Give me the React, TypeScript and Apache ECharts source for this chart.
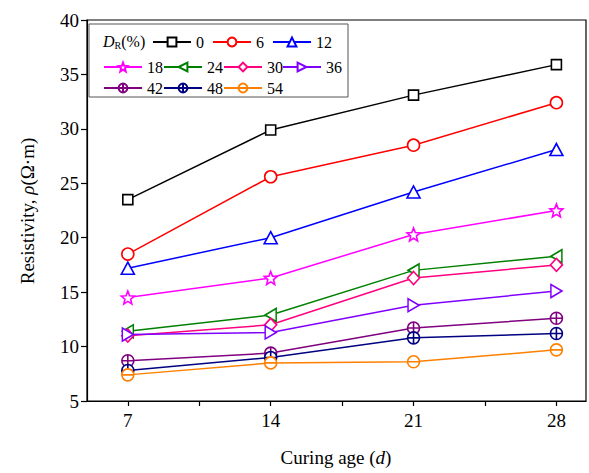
import React, { useEffect, useRef } from "react";
import * as echarts from "echarts";

const ages = [7, 14, 21, 28];
const xLabelTicks = [7, 14, 21, 28];
const xMinorTicks = [7, 10.5, 14, 17.5, 21, 24.5, 28];

const d0 = [23.5, 29.9, 33.1, 35.9];
const d6 = [18.5, 25.6, 28.5, 32.4];
const d12 = [17.2, 20.0, 24.2, 28.1];
const d18 = [14.5, 16.3, 20.3, 22.5];
const d24 = [11.4, 12.9, 17.0, 18.3];
const d30 = [11.0, 12.0, 16.3, 17.5];
const d36 = [11.1, 11.3, 13.8, 15.1];
const d42 = [8.7, 9.4, 11.7, 12.6];
const d48 = [7.8, 9.0, 10.8, 11.2];
const d54 = [7.4, 8.5, 8.6, 9.7];

const seriesNames = ["0", "6", "12", "18", "24", "30", "36", "42", "48", "54"];
const seriesValues = [d0, d6, d12, d18, d24, d30, d36, d42, d48, d54];
const seriesColors = [
  "#000000", "#FF0000", "#0000FF", "#FF00FF", "#008000",
  "#FF0080", "#8000FF", "#800080", "#000080", "#FF8000",
];

const STAR =
  "path://M50 0 L62.93 32.2 L97.55 34.55 L70.92 56.8 L79.39 90.45 L50 72 L20.61 90.45 L29.08 56.8 L2.45 34.55 L37.07 32.2 Z";
const LEFT_TRI = "path://M0 50 L100 0 L100 100 Z";
const RIGHT_TRI = "path://M0 0 L100 50 L0 100 Z";
const CIRCLE_PLUS =
  "path://M0 50 A50 50 0 1 1 100 50 A50 50 0 1 1 0 50 Z M50 0 L50 100 M0 50 L100 50";
const CIRCLE_MINUS =
  "path://M0 50 A50 50 0 1 1 100 50 A50 50 0 1 1 0 50 Z M0 50 L100 50";

const seriesSymbols = [
  "rect", "circle", "triangle", STAR, LEFT_TRI,
  "diamond", RIGHT_TRI, CIRCLE_PLUS, CIRCLE_PLUS, CIRCLE_MINUS,
];
const seriesSymbolSizes: any[] = [
  10, 12, [13, 12], 13, [11, 13], [12, 13], [11, 13], 12, 12, 12,
];

const legendPos = [
  [152, 34], [212, 34], [272, 34],
  [103, 59], [163, 59], [223, 59], [282, 59],
  [103, 80], [163, 80], [223, 80],
];

const FONT = "Liberation Serif";

export default function App() {
  const ref = useRef<HTMLDivElement>(null);
  useEffect(() => {
    if (!ref.current) return;
    const chart = echarts.init(ref.current, null, { renderer: "svg" });
    const series = seriesNames.map((name, i) => ({
      name,
      type: "line",
      data: ages.map((a, j) => [a, seriesValues[i][j]]),
      symbol: seriesSymbols[i],
      symbolSize: seriesSymbolSizes[i],
      showAllSymbol: true,
      lineStyle: { color: seriesColors[i], width: 1.5 },
      itemStyle: { color: "#ffffff", borderColor: seriesColors[i], borderWidth: 1.6 },
      z: 3,
    }));
    const legendText = {
      fontFamily: FONT,
      fontSize: 16,
      color: "#000",
      fontWeight: "normal",
      rich: { t: { fontFamily: FONT, fontSize: 16, color: "#000", fontWeight: "normal" } },
    };
    const legends = seriesNames.map((name, i) => ({
      data: [name],
      left: legendPos[i][0],
      top: legendPos[i][1],
      padding: 0,
      itemGap: 0,
      itemWidth: 38,
      itemHeight: 11,
      formatter: "{t|{name}}",
      textStyle: legendText,
    }));
    chart.setOption({
      animation: false,
      backgroundColor: "#fff",
      textStyle: { fontFamily: FONT },
      grid: {
        left: 87,
        top: 20,
        right: 3,
        bottom: 72,
        show: true,
        borderColor: "#000",
        borderWidth: 1.2,
        backgroundColor: "transparent",
      },
      legend: legends,
      xAxis: {
        type: "value",
        min: 5,
        max: 29.45,
        axisLine: { lineStyle: { color: "#000", width: 1.2 } },
        axisTick: {
          show: true,
          length: 5,
          inside: false,
          customValues: xMinorTicks,
          lineStyle: { color: "#000", width: 1.2 },
        },
        axisLabel: {
          customValues: xLabelTicks,
          fontFamily: FONT,
          fontSize: 19,
          color: "#000",
          margin: 10,
        },
        splitLine: { show: false },
      },
      yAxis: {
        type: "value",
        min: 5,
        max: 40,
        interval: 5,
        axisLine: { show: true, lineStyle: { color: "#000", width: 1.2 } },
        axisTick: { show: true, length: 6, inside: false, lineStyle: { color: "#000", width: 1.2 } },
        axisLabel: { fontFamily: FONT, fontSize: 19, color: "#000", margin: 8 },
        splitLine: { show: false },
      },
      series,
      graphic: [
        {
          type: "rect",
          shape: { x: 89, y: 24, width: 259, height: 73 },
          style: { fill: "transparent", stroke: "#555", lineWidth: 1 },
          silent: true,
          z: 1,
        },
        {
          type: "text",
          left: 103,
          top: 33,
          style: {
            text: "{i|D}{s|R}{n|(%)}",
            rich: {
              i: { fontFamily: FONT, fontStyle: "italic", fontSize: 16, fill: "#000" },
              s: { fontFamily: FONT, fontSize: 10, fill: "#000", padding: [8, 0, 0, 0] },
              n: { fontFamily: FONT, fontSize: 16, fill: "#000" },
            },
          },
          z: 10,
        },
        {
          type: "text",
          x: 336,
          y: 457,
          style: {
            text: "{n|Curing age (}{i|d}{n|)}",
            align: "center",
            verticalAlign: "middle",
            rich: {
              n: { fontFamily: FONT, fontSize: 19, fill: "#000" },
              i: { fontFamily: FONT, fontSize: 19, fontStyle: "italic", fill: "#000" },
            },
          },
        },
        {
          type: "text",
          x: 27,
          y: 211,
          rotation: Math.PI / 2,
          style: {
            text: "{n|Resistivity, }{i|ρ}{n|(Ω·m)}",
            align: "center",
            verticalAlign: "middle",
            rich: {
              n: { fontFamily: FONT, fontSize: 19, fill: "#000" },
              i: { fontFamily: FONT, fontSize: 19, fontStyle: "italic", fill: "#000" },
            },
          },
        },
      ],
    });
    return () => chart.dispose();
  }, []);
  return <div ref={ref} style={{ width: 589, height: 473, position: "absolute", left: 0, top: 0 }} />;
}
